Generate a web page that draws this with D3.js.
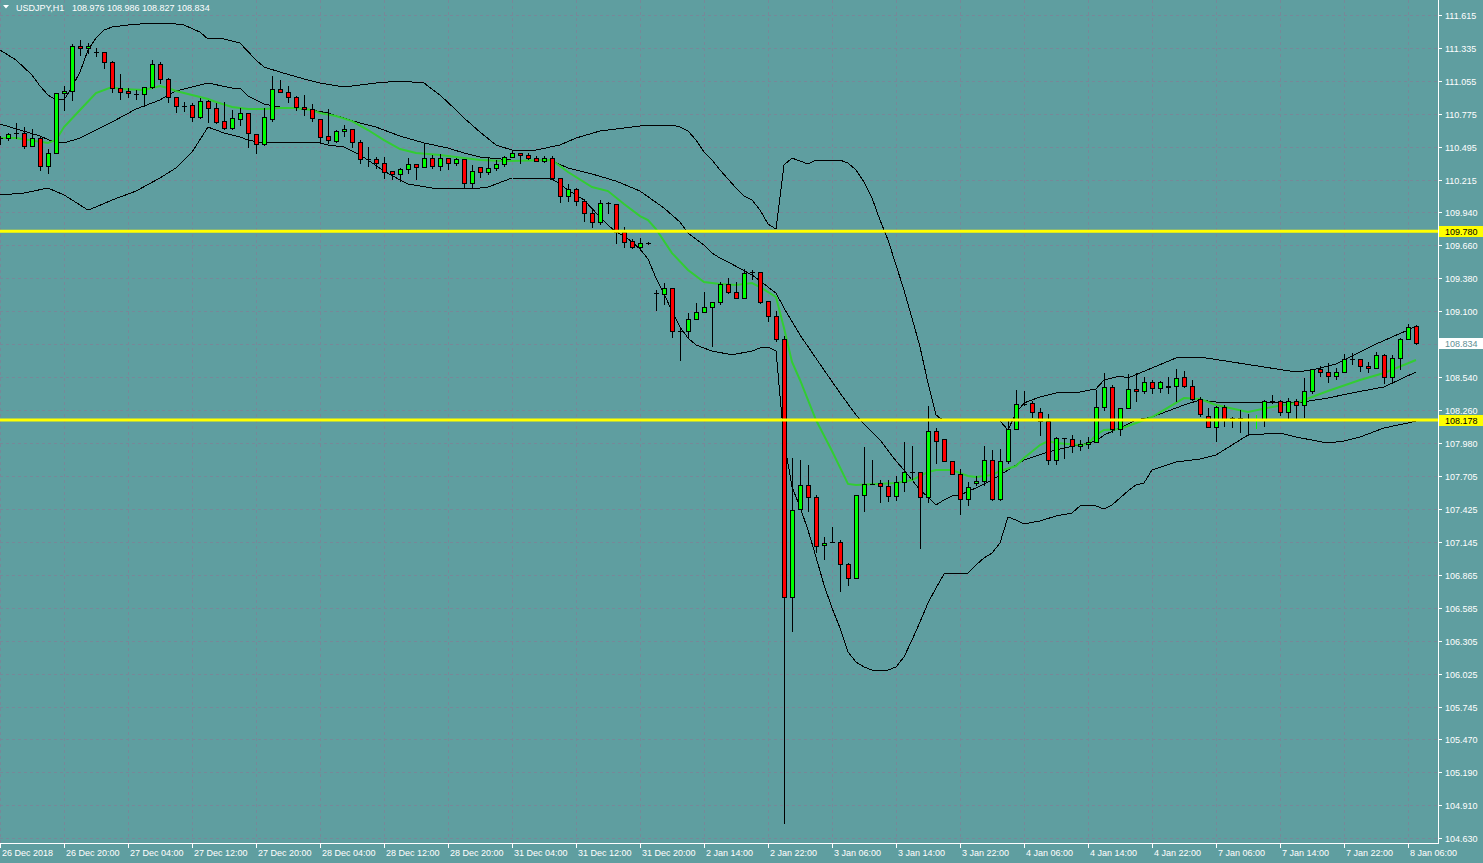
<!DOCTYPE html>
<html><head><meta charset="utf-8">
<script src="https://cdn.jsdelivr.net/npm/d3@7"></script>
<style>
html,body{margin:0;padding:0;background:#5f9ea0;overflow:hidden}
svg{display:block}
text{font-family:"Liberation Sans",Arial,sans-serif;font-size:9px}
</style>
</head><body>
<svg id="c" width="1483" height="863"></svg>
<script>
const symbol = "USDJPY,H1";
const timeLabels = ["26 Dec 2018","26 Dec 20:00","27 Dec 04:00","27 Dec 12:00","27 Dec 20:00","28 Dec 04:00","28 Dec 12:00","28 Dec 20:00","31 Dec 04:00","31 Dec 12:00","31 Dec 20:00","2 Jan 14:00","2 Jan 22:00","3 Jan 06:00","3 Jan 14:00","3 Jan 22:00","4 Jan 06:00","4 Jan 14:00","4 Jan 22:00","7 Jan 06:00","7 Jan 14:00","7 Jan 22:00","8 Jan 06:00"];
const labelEvery = 8;
const priceTicks = [111.615,111.335,111.055,110.775,110.495,110.215,109.940,109.660,109.380,109.100,108.820,108.540,108.260,107.980,107.705,107.425,107.145,106.865,106.585,106.305,106.025,105.745,105.470,105.190,104.910,104.630];
const levels = [109.780, 108.178];

const open = [110.571,110.571,110.614,110.614,110.503,110.571,110.334,110.444,110.953,110.970,
111.352,111.335,111.301,111.301,111.216,110.995,110.970,110.944,110.944,111.004,
111.199,111.072,110.919,110.843,110.851,110.749,110.885,110.826,110.715,110.656,
110.732,110.783,110.605,110.520,110.732,110.987,110.961,110.919,110.834,110.817,
110.732,110.588,110.546,110.631,110.647,110.537,110.393,110.393,110.359,110.291,
110.266,110.308,110.351,110.325,110.401,110.334,110.401,110.359,110.393,110.189,
110.325,110.283,110.317,110.351,110.410,110.444,110.427,110.401,110.376,110.401,
110.232,110.079,110.138,110.037,109.935,109.858,110.020,110.011,109.774,109.697,
109.646,109.680,109.256,109.248,109.298,108.934,108.934,109.035,109.095,109.137,
109.180,109.332,109.265,109.214,109.434,109.434,109.188,109.061,108.866,106.677,
107.423,107.627,107.525,107.118,107.143,107.143,106.957,106.838,107.542,107.636,
107.644,107.619,107.534,107.652,107.737,107.737,107.525,108.085,108.017,107.831,
107.720,107.508,107.644,107.661,107.839,107.508,107.831,108.102,108.314,108.323,
108.246,108.170,107.839,108.026,108.017,107.958,107.975,107.992,108.289,108.459,
108.102,108.280,108.442,108.425,108.501,108.450,108.467,108.467,108.543,108.467,
108.357,108.212,108.119,108.289,108.178,108.195,108.187,108.186,108.187,108.340,
108.340,108.246,108.340,108.306,108.425,108.611,108.586,108.552,108.586,108.696,
108.696,108.637,108.620,108.730,108.543,108.705,108.866,108.976];
const high = [110.588,110.614,110.698,110.664,110.647,110.580,110.478,110.953,111.012,111.369,
111.403,111.377,111.335,111.301,111.224,111.114,110.995,110.978,111.004,111.233,
111.216,111.080,110.919,110.877,110.868,110.911,110.894,110.868,110.877,110.809,
110.826,110.783,110.605,110.826,111.097,111.063,111.012,110.928,110.936,110.860,
110.732,110.817,110.639,110.681,110.647,110.554,110.495,110.410,110.410,110.291,
110.317,110.401,110.351,110.520,110.427,110.435,110.401,110.401,110.393,110.342,
110.325,110.410,110.384,110.418,110.469,110.444,110.444,110.418,110.418,110.418,
110.232,110.181,110.147,110.054,109.960,110.045,110.028,110.011,109.816,109.714,
109.723,109.689,109.281,109.341,109.298,108.959,109.086,109.171,109.265,109.180,
109.349,109.383,109.349,109.460,109.451,109.434,109.188,109.103,108.891,107.856,
107.839,107.797,107.542,107.186,107.271,107.160,106.965,107.542,107.949,107.839,
107.669,107.669,107.703,107.992,107.958,107.737,108.297,108.111,108.017,107.831,
107.763,107.652,107.703,107.958,107.924,107.932,108.187,108.433,108.425,108.340,
108.280,108.229,108.034,108.026,108.051,108.009,108.034,108.433,108.577,108.475,
108.280,108.569,108.577,108.543,108.518,108.509,108.543,108.611,108.594,108.518,
108.374,108.280,108.297,108.306,108.204,108.263,108.229,108.221,108.348,108.391,
108.348,108.365,108.357,108.535,108.611,108.637,108.662,108.620,108.738,108.747,
108.696,108.671,108.755,108.738,108.730,108.874,108.993,108.986];
const low = [110.520,110.554,110.571,110.486,110.503,110.300,110.274,110.444,110.809,110.894,
111.275,111.292,111.267,111.165,110.961,110.902,110.919,110.902,110.843,110.995,
111.038,110.877,110.792,110.800,110.715,110.741,110.707,110.698,110.647,110.647,
110.681,110.495,110.444,110.512,110.715,110.961,110.877,110.809,110.766,110.715,
110.529,110.529,110.537,110.588,110.495,110.359,110.334,110.317,110.232,110.223,
110.206,110.274,110.223,110.325,110.317,110.300,110.308,110.342,110.147,110.147,
110.240,110.266,110.300,110.334,110.410,110.359,110.393,110.376,110.368,110.223,
110.028,110.037,110.003,109.867,109.816,109.841,109.935,109.680,109.646,109.638,
109.621,109.672,109.112,109.163,108.883,108.688,108.883,109.035,109.095,108.806,
109.163,109.256,109.214,109.214,109.375,109.171,109.018,108.849,104.759,106.388,
107.423,107.406,107.059,106.999,107.143,106.728,106.779,106.838,107.406,107.636,
107.483,107.491,107.500,107.576,107.678,107.092,107.483,107.814,107.831,107.720,
107.381,107.457,107.627,107.627,107.500,107.500,107.814,108.102,108.306,108.204,
108.051,107.805,107.805,107.856,107.907,107.924,107.941,107.992,108.263,108.077,
108.051,108.280,108.340,108.408,108.408,108.416,108.408,108.340,108.459,108.348,
108.212,108.119,108.000,108.128,108.119,108.077,108.051,108.111,108.128,108.323,
108.221,108.195,108.195,108.204,108.408,108.552,108.501,108.526,108.586,108.654,
108.594,108.586,108.620,108.492,108.509,108.611,108.866,108.827];
const close = [110.571,110.605,110.614,110.503,110.571,110.334,110.444,110.953,110.970,111.352,
111.335,111.352,111.301,111.216,110.995,110.961,110.953,110.944,111.004,111.199,
111.072,110.919,110.843,110.843,110.749,110.885,110.826,110.707,110.656,110.741,
110.783,110.614,110.520,110.749,110.987,110.961,110.919,110.834,110.817,110.741,
110.580,110.554,110.631,110.647,110.537,110.393,110.393,110.359,110.283,110.266,
110.308,110.351,110.325,110.401,110.334,110.401,110.359,110.393,110.189,110.291,
110.283,110.317,110.351,110.410,110.444,110.427,110.401,110.376,110.401,110.232,
110.079,110.138,110.037,109.935,109.858,110.020,110.020,109.774,109.689,109.646,
109.680,109.680,109.256,109.298,108.934,108.934,109.035,109.095,109.137,109.180,
109.332,109.265,109.214,109.426,109.434,109.180,109.061,108.866,106.677,107.415,
107.627,107.525,107.109,107.135,107.143,106.957,106.838,107.542,107.636,107.636,
107.619,107.534,107.652,107.737,107.737,107.525,108.085,108.000,107.831,107.720,
107.508,107.610,107.661,107.839,107.508,107.831,108.102,108.314,108.314,108.246,
108.170,107.839,108.026,108.026,107.958,107.975,107.992,108.289,108.459,108.102,
108.280,108.442,108.425,108.501,108.450,108.501,108.459,108.535,108.467,108.357,
108.229,108.119,108.289,108.178,108.195,108.178,108.187,108.188,108.340,108.340,
108.246,108.340,108.306,108.425,108.611,108.586,108.552,108.586,108.696,108.696,
108.637,108.620,108.730,108.543,108.705,108.866,108.968,108.834];

// Indicator readings: [bar index, price]
const bbUpper = [[0,111.318],[2,111.233],[4,111.106],[5,111.012],[6,110.936],[7,110.894],[8,110.894],[9,111.004],[10,111.131],[11,111.318],[12,111.420],[13,111.487],[14,111.513],[16,111.530],[19,111.547],[21,111.547],[23,111.530],[25,111.470],[26,111.411],[27,111.420],[28,111.411],[30,111.377],[32,111.233],[33,111.174],[35,111.131],[38,111.072],[40,111.038],[43,111.004],[47,111.038],[50,111.055],[53,111.038],[55,110.936],[57,110.809],[58,110.741],[60,110.622],[62,110.512],[64,110.469],[67,110.469],[70,110.512],[72,110.571],[75,110.631],[78,110.656],[81,110.681],[84,110.681],[85,110.664],[86,110.631],[87,110.554],[88,110.452],[89,110.384],[90,110.300],[91,110.223],[92,110.147],[93,110.079],[94,110.045],[95,109.960],[96,109.841],[97,109.799],[98,110.342],[99,110.401],[100,110.376],[101,110.351],[102,110.384],[105,110.384],[106,110.359],[107,110.300],[108,110.198],[109,110.062],[110,109.875],[111,109.706],[112,109.494],[113,109.281],[114,109.044],[115,108.798],[116,108.492],[117,108.221],[118,108.170],[119,108.178],[125,108.170],[126,108.094],[127,108.238],[128,108.323],[130,108.374],[132,108.408],[135,108.416],[137,108.442],[138,108.518],[140,108.552],[141,108.535],[144,108.620],[147,108.705],[150,108.713],[162,108.586],[164,108.603],[167,108.654],[172,108.823],[176,108.942],[177,108.976]];
const bbMiddle = [[0,110.690],[5,110.588],[7,110.529],[8,110.529],[10,110.571],[12,110.639],[14,110.707],[17,110.817],[20,110.894],[21,110.936],[22,110.970],[25,111.021],[26,111.038],[29,110.995],[30,110.995],[31,110.928],[33,110.860],[35,110.834],[39,110.809],[41,110.783],[45,110.698],[47,110.664],[50,110.588],[53,110.529],[56,110.486],[58,110.444],[60,110.410],[64,110.384],[69,110.376],[71,110.317],[74,110.266],[77,110.206],[80,110.121],[83,109.977],[85,109.858],[86,109.765],[88,109.663],[89,109.595],[90,109.553],[91,109.519],[94,109.409],[95,109.358],[97,109.256],[98,109.129],[100,108.900],[103,108.603],[105,108.408],[107,108.221],[108,108.145],[110,108.009],[112,107.831],[113,107.754],[115,107.585],[116,107.525],[117,107.457],[118,107.500],[119,107.534],[120,107.542],[122,107.602],[124,107.669],[126,107.754],[128,107.839],[131,107.907],[133,107.941],[135,107.966],[137,108.000],[138,108.051],[140,108.111],[142,108.178],[144,108.204],[145,108.229],[148,108.306],[150,108.348],[152,108.331],[156,108.331],[162,108.323],[166,108.365],[169,108.408],[173,108.459],[177,108.586]];
const bbLower = [[0,110.088],[3,110.104],[6,110.147],[8,110.088],[10,110.003],[11,109.960],[12,109.986],[14,110.045],[17,110.121],[20,110.232],[22,110.317],[24,110.452],[26,110.664],[28,110.614],[30,110.580],[31,110.554],[33,110.529],[38,110.529],[40,110.529],[41,110.512],[43,110.495],[45,110.427],[46,110.384],[48,110.291],[50,110.215],[51,110.181],[54,110.147],[60,110.147],[61,110.155],[64,110.232],[69,110.223],[70,110.181],[71,110.130],[73,110.045],[75,109.901],[76,109.833],[77,109.774],[78,109.740],[79,109.689],[80,109.629],[81,109.545],[82,109.383],[83,109.248],[84,109.103],[85,108.968],[86,108.874],[87,108.815],[88,108.789],[89,108.764],[91,108.738],[92,108.738],[94,108.764],[95,108.789],[96,108.798],[97,108.764],[98,108.009],[99,107.610],[100,107.440],[101,107.245],[102,107.016],[103,106.779],[104,106.583],[105,106.414],[106,106.210],[107,106.125],[108,106.083],[109,106.057],[111,106.057],[112,106.083],[113,106.168],[114,106.312],[115,106.465],[116,106.626],[117,106.753],[118,106.872],[119,106.880],[121,106.880],[122,106.948],[123,107.008],[124,107.050],[125,107.135],[126,107.356],[127,107.330],[128,107.296],[130,107.322],[132,107.364],[134,107.389],[135,107.449],[137,107.449],[138,107.423],[139,107.457],[140,107.517],[141,107.576],[142,107.627],[143,107.644],[144,107.754],[147,107.822],[150,107.848],[152,107.882],[153,107.924],[156,108.051],[160,108.068],[162,108.034],[166,107.983],[168,108.000],[170,108.034],[173,108.111],[176,108.153],[177,108.170]];
const maFast = [[0,110.571],[2,110.571],[6,110.529],[7,110.554],[8,110.664],[10,110.809],[12,110.953],[14,111.004],[15,110.987],[18,110.978],[20,111.012],[21,110.995],[22,110.970],[24,110.936],[26,110.902],[27,110.877],[29,110.834],[31,110.817],[33,110.817],[35,110.826],[37,110.826],[39,110.809],[40,110.783],[42,110.758],[44,110.715],[46,110.639],[48,110.554],[50,110.478],[52,110.444],[55,110.427],[57,110.410],[60,110.384],[63,110.376],[69,110.384],[71,110.283],[74,110.155],[76,110.121],[78,110.011],[80,109.909],[81,109.875],[82,109.799],[84,109.595],[86,109.451],[88,109.349],[90,109.332],[92,109.324],[94,109.341],[95,109.307],[97,109.222],[98,108.959],[99,108.671],[100,108.518],[102,108.178],[104,107.915],[106,107.636],[107,107.627],[112,107.644],[114,107.669],[116,107.737],[117,107.754],[119,107.754],[120,107.729],[121,107.703],[122,107.695],[124,107.712],[125,107.746],[127,107.788],[128,107.856],[130,107.966],[131,108.000],[132,107.983],[135,107.966],[136,107.975],[137,108.051],[138,108.094],[140,108.102],[144,108.204],[148,108.365],[150,108.357],[152,108.306],[156,108.246],[159,108.289],[162,108.323],[166,108.425],[170,108.518],[173,108.577],[177,108.688]];

// ---- drawing ----
const W = 1483, H = 863, axisX = 1438, axisY = 843;
const BG = "#5f9ea0", GRID = "#778899", BULL = "#00ff00", BEAR = "#ff0000";
const n = open.length;
const svg = d3.select("#c");
svg.append("rect").attr("width", W).attr("height", H).attr("fill", BG);

const x = d3.scaleLinear().domain([0, n - 1]).range([0, (n - 1) * 8]);
const y = d3.scaleLinear().domain([104.630, 111.615]).range([838.2, 15]);
const px = v => Math.round(v) + 0.5;

svg.append("clipPath").attr("id", "plot").append("rect").attr("x", 0).attr("y", 0).attr("width", axisX).attr("height", axisY);

// grid
const grid = svg.append("g").attr("stroke", GRID).attr("stroke-dasharray", "3,3").attr("shape-rendering", "crispEdges");
priceTicks.forEach(v => grid.append("line").attr("x1", 0).attr("x2", axisX).attr("y1", px(y(v))).attr("y2", px(y(v))));
timeLabels.forEach((t, i) => grid.append("line").attr("x1", px(x(i * labelEvery))).attr("x2", px(x(i * labelEvery))).attr("y1", 0).attr("y2", axisY));

const plot = svg.append("g").attr("clip-path", "url(#plot)");

// indicators
const line = d3.line().x(d => x(d[0])).y(d => y(d[1]));
[bbUpper, bbMiddle, bbLower].forEach(s => plot.append("path").attr("d", line(s)).attr("fill", "none").attr("stroke", "#000").attr("stroke-width", 1).attr("shape-rendering", "crispEdges"));
plot.append("path").attr("d", line(maFast)).attr("fill", "none").attr("stroke", "#32cd32").attr("stroke-width", 2);

// candles
const cg = plot.append("g").attr("shape-rendering", "crispEdges");
for (let i = 0; i < n; i++) {
  const cx = Math.round(x(i));
  const yo = Math.round(y(open[i])), yc = Math.round(y(close[i]));
  const yh = Math.round(y(high[i])), yl = Math.round(y(low[i]));
  const top = Math.min(yo, yc), bot = Math.max(yo, yc);
  if (bot - top < 1) {
    const col = close[i] > open[i] ? BULL : "#000";
    cg.append("line").attr("x1", cx + 0.5).attr("x2", cx + 0.5).attr("y1", yh).attr("y2", yl + 1).attr("stroke", col);
    cg.append("line").attr("x1", cx - 2).attr("x2", cx + 3).attr("y1", top + 0.5).attr("y2", top + 0.5).attr("stroke", col);
  } else {
    cg.append("line").attr("x1", cx + 0.5).attr("x2", cx + 0.5).attr("y1", yh).attr("y2", yl + 1).attr("stroke", "#000");
    cg.append("rect").attr("x", cx - 1.5).attr("y", top + 0.5).attr("width", 4).attr("height", bot - top)
      .attr("fill", close[i] > open[i] ? BULL : BEAR).attr("stroke", "#000");
  }
}

// horizontal levels
levels.forEach(v => plot.append("line").attr("x1", 0).attr("x2", axisX).attr("y1", y(v)).attr("y2", y(v)).attr("stroke", "#ffff00").attr("stroke-width", 3));

// axes
const ax = svg.append("g").attr("shape-rendering", "crispEdges");
ax.append("line").attr("x1", axisX + 0.5).attr("x2", axisX + 0.5).attr("y1", 0).attr("y2", axisY + 1).attr("stroke", "#fff");
ax.append("line").attr("x1", 0).attr("x2", axisX + 1).attr("y1", axisY + 0.5).attr("y2", axisY + 0.5).attr("stroke", "#fff");
priceTicks.forEach(v => {
  const yy = px(y(v));
  ax.append("line").attr("x1", axisX).attr("x2", axisX + 4).attr("y1", yy).attr("y2", yy).attr("stroke", "#fff");
  svg.append("text").attr("x", 1445).attr("y", yy + 3).attr("fill", "#fff").text(v.toFixed(3));
});
timeLabels.forEach((t, i) => {
  const xx = px(x(i * labelEvery));
  ax.append("line").attr("x1", xx).attr("x2", xx).attr("y1", axisY).attr("y2", axisY + 5).attr("stroke", "#fff");
  svg.append("text").attr("x", xx + 1.5).attr("y", 856).attr("fill", "#fff").text(t);
});

// price boxes on axis
function priceBox(v, bg, fg) {
  const yy = Math.round(y(v));
  svg.append("rect").attr("x", axisX + 1).attr("y", yy - 5).attr("width", W - axisX - 1).attr("height", 11).attr("fill", bg);
  svg.append("text").attr("x", 1445).attr("y", yy + 3.5).attr("fill", fg).text(v.toFixed(3));
}
levels.forEach(v => priceBox(v, "#ffff00", "#000"));
priceBox(close[n - 1], "#ffffff", "#5f8f95");

// header
svg.append("path").attr("d", "M3,5 L9,5 L6,8.5 Z").attr("fill", "#fff");
svg.append("text").attr("x", 16).attr("y", 11).attr("fill", "#fff").text(symbol);
svg.append("text").attr("x", 72).attr("y", 11).attr("fill", "#fff")
  .text([open[n - 1], high[n - 1], low[n - 1], close[n - 1]].map(v => v.toFixed(3)).join(" "));
</script>
</body></html>
